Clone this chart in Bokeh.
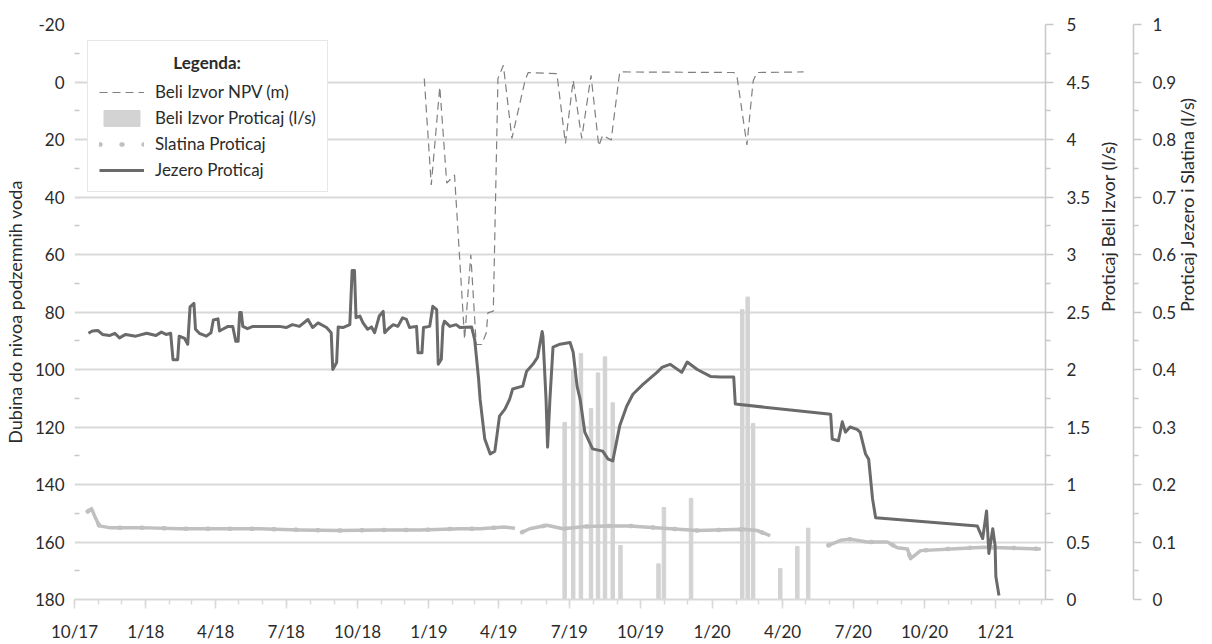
import math
import pandas as pd
from bokeh.plotting import figure
from bokeh.models import (Range1d, LinearAxis, FixedTicker, CustomJSTickFormatter,
                          Legend, LegendItem)
from bokeh.embed import file_html
from bokeh.resources import INLINE

FONT = "Lato"
NAN = float("nan")

# ---------------- data ----------------
X_START = "2017-10-01"
X_END = "2021-03-06"
X_TICKS = ["2017-10-01", "2018-01-01", "2018-04-01", "2018-07-01", "2018-10-01",
           "2019-01-01", "2019-04-01", "2019-07-01", "2019-10-01", "2020-01-01",
           "2020-04-01", "2020-07-01", "2020-10-01", "2021-01-01"]
X_TICK_LABELS = ["10/17", "1/18", "4/18", "7/18", "10/18", "1/19", "4/19", "7/19",
                 "10/19", "1/20", "4/20", "7/20", "10/20", "1/21"]

DEPTH_TICKS = [-20, 0, 20, 40, 60, 80, 100, 120, 140, 160, 180]
DEPTH_MINOR = [-10, 10, 30, 50, 70, 90, 110, 130, 150, 170]
BELI_TICKS = [0, 0.5, 1, 1.5, 2, 2.5, 3, 3.5, 4, 4.5, 5]
BELI_MINOR = [0.25, 0.75, 1.25, 1.75, 2.25, 2.75, 3.25, 3.75, 4.25, 4.75]
JS_TICKS = [0, 0.1, 0.2, 0.3, 0.4, 0.5, 0.6, 0.7, 0.8, 0.9, 1]
JS_MINOR = [0.05, 0.15, 0.25, 0.35, 0.45, 0.55, 0.65, 0.75, 0.85, 0.95]

LEGEND_TITLE = "Legenda:"
TITLE_LEFT = "Dubina do nivoa podzemnih voda"
TITLE_RIGHT1 = "Proticaj Beli Izvor (l/s)"
TITLE_RIGHT2 = "Proticaj Jezero i Slatina (l/s)"

# Jezero Proticaj (l/s) - right axis 0..1
jezero_dates = [
    "2017-10-19", "2017-10-24", "2017-10-31", "2017-11-06", "2017-11-15", "2017-11-22",
    "2017-11-28", "2017-12-06", "2017-12-19", "2018-01-02", "2018-01-14", "2018-01-21",
    "2018-01-27", "2018-02-02", "2018-02-05", "2018-02-11", "2018-02-13", "2018-02-20",
    "2018-02-24", "2018-02-27", "2018-03-04", "2018-03-06", "2018-03-11", "2018-03-20",
    "2018-03-26", "2018-03-29", "2018-04-04", "2018-04-06", "2018-04-10", "2018-04-17",
    "2018-04-23", "2018-04-27", "2018-04-30", "2018-05-02", "2018-05-04", "2018-05-06",
    "2018-05-12", "2018-05-19", "2018-06-22", "2018-07-01", "2018-07-09", "2018-07-18",
    "2018-07-29", "2018-08-04", "2018-08-11", "2018-08-22", "2018-08-28", "2018-08-30",
    "2018-09-04", "2018-09-06", "2018-09-12", "2018-09-21", "2018-09-24", "2018-09-27",
    "2018-09-29", "2018-10-04", "2018-10-08", "2018-10-14", "2018-10-19", "2018-10-23",
    "2018-10-29", "2018-11-03", "2018-11-05", "2018-11-09", "2018-11-16", "2018-11-22",
    "2018-11-28", "2018-12-03", "2018-12-07", "2018-12-16", "2018-12-18", "2018-12-23",
    "2018-12-25", "2019-01-02", "2019-01-06", "2019-01-11", "2019-01-13", "2019-01-17",
    "2019-01-19", "2019-01-21", "2019-01-28", "2019-02-05", "2019-02-10", "2019-02-25",
    "2019-03-01", "2019-03-06", "2019-03-08", "2019-03-14", "2019-03-21", "2019-03-27",
    "2019-04-02", "2019-04-09", "2019-04-15", "2019-04-19", "2019-05-02", "2019-05-07",
    "2019-05-15", "2019-05-21", "2019-05-27", "2019-05-28", "2019-06-01", "2019-06-03",
    "2019-06-06", "2019-06-10", "2019-06-19", "2019-07-02", "2019-07-06", "2019-07-11",
    "2019-07-15", "2019-07-21", "2019-07-31", "2019-08-13", "2019-08-20", "2019-08-26",
    "2019-09-04", "2019-09-13", "2019-09-21", "2019-10-04", "2019-10-22", "2019-10-29",
    "2019-11-08", "2019-11-23", "2019-11-30", "2019-12-13", "2019-12-30", "2020-01-12",
    "2020-01-29", "2020-01-31", "2020-06-02", "2020-06-04", "2020-06-12", "2020-06-17",
    "2020-06-21", "2020-06-27", "2020-07-06", "2020-07-10", "2020-07-17", "2020-07-21",
    "2020-07-26", "2020-07-30", "2020-12-08", "2020-12-15", "2020-12-20", "2020-12-23",
    "2020-12-28", "2020-12-31", "2021-01-01", "2021-01-05"]
jezero_vals = [
    0.463, 0.467, 0.468, 0.461, 0.459, 0.463,
    0.455, 0.461, 0.458, 0.463, 0.459, 0.465,
    0.461, 0.463, 0.417, 0.417, 0.458, 0.454,
    0.444, 0.509, 0.515, 0.470, 0.463, 0.458,
    0.464, 0.486, 0.488, 0.467, 0.470, 0.475,
    0.475, 0.449, 0.449, 0.499, 0.499, 0.475,
    0.471, 0.475, 0.475, 0.473, 0.478, 0.475,
    0.487, 0.473, 0.481, 0.473, 0.464, 0.400,
    0.412, 0.474, 0.473, 0.478, 0.572, 0.572,
    0.490, 0.493, 0.481, 0.470, 0.474, 0.464,
    0.493, 0.501, 0.464, 0.470, 0.478, 0.475,
    0.490, 0.487, 0.473, 0.475, 0.429, 0.429,
    0.473, 0.475, 0.510, 0.504, 0.409, 0.418,
    0.475, 0.484, 0.475, 0.478, 0.473, 0.474,
    0.452, 0.384, 0.348, 0.279, 0.253, 0.258,
    0.319, 0.331, 0.348, 0.366, 0.371, 0.397,
    0.409, 0.421, 0.466, 0.458, 0.348, 0.265,
    0.348, 0.439, 0.444, 0.447, 0.430, 0.371,
    0.348, 0.291, 0.262, 0.258, 0.244, 0.241,
    0.302, 0.336, 0.357, 0.374, 0.395, 0.404,
    0.409, 0.395, 0.413, 0.400, 0.388, 0.387,
    0.387, 0.340, 0.322, 0.279, 0.276, 0.309,
    0.291, 0.300, 0.296, 0.291, 0.253, 0.244,
    0.175, 0.142, 0.128, 0.106, 0.154, 0.080,
    0.123, 0.094, 0.040, 0.007]

# Beli Izvor NPV (m) - left axis (depth)
npv_dates = [
    "2018-12-26", "2019-01-04", "2019-01-15", "2019-01-24", "2019-02-03", "2019-02-16",
    "2019-02-24", "2019-03-03", "2019-03-10", "2019-03-16", "2019-03-18", "2019-03-25",
    "2019-03-31", "2019-04-07", "2019-04-18", "2019-05-05", "2019-05-09", "2019-06-15",
    "2019-06-26", "2019-07-06", "2019-07-17", "2019-07-29", "2019-08-08", "2019-08-13",
    "2019-08-24", "2019-09-04", "2020-01-29", "2020-02-02", "2020-02-15", "2020-02-23",
    "2020-02-28", "2020-04-28"]
npv_vals = [
    -1.2, 35.8, 1.7, 35.2, 32.3, 89.5,
    60.1, 91.3, 91.3, 87.2, 80.3, 79.7,
    -1.2, -5.8, 19.6, -0.6, -3.3, -2.9,
    21.4, -0.6, 19.6, -2.3, 22.3, 18.5,
    20.2, -3.5, -3.3, -2.3, 21.9, -0.3,
    -3.3, -3.5]

# Beli Izvor Proticaj (l/s) - bars, right axis 0..5
bar_dates = ["2019-06-25", "2019-07-06", "2019-07-16", "2019-07-29", "2019-08-07",
             "2019-08-16", "2019-08-26", "2019-09-05", "2019-10-24", "2019-10-31",
             "2019-12-05", "2020-02-09", "2020-02-16", "2020-02-23", "2020-03-29",
             "2020-04-20", "2020-05-04"]
bar_vals = [1.54, 2.0, 2.14, 1.66, 1.97,
            2.11, 1.71, 0.47, 0.31, 0.80,
            0.88, 2.52, 2.63, 1.53, 0.27,
            0.46, 0.62]

# Slatina Proticaj (l/s) - right axis 0..1 (NaN = gap in record)
slatina_dates = [
    "2017-10-18", "2017-10-23", "2017-10-28", "2017-11-02", "2017-11-15", "2017-12-24",
    "2018-02-14", "2018-04-06", "2018-05-28", "2018-07-18", "2018-09-08", "2018-10-30",
    "2018-12-20", "2019-02-10", "2019-03-08", "2019-04-08", "2019-04-22", "2019-04-26",
    "2019-05-01", "2019-05-11", "2019-06-02", "2019-06-23", "2019-07-21", "2019-08-22",
    "2019-09-17", "2019-10-30", "2019-12-13", "2020-02-11", "2020-02-28", "2020-03-16",
    "2020-04-20",
    "2020-05-30", "2020-06-15", "2020-06-27", "2020-07-19", "2020-08-14", "2020-08-27",
    "2020-09-09", "2020-09-13", "2020-09-26", "2020-11-04", "2020-12-16", "2021-02-28"]
slatina_vals = [
    0.153, 0.158, 0.142, 0.128, 0.125, 0.125,
    0.123, 0.123, 0.123, 0.121, 0.120, 0.121,
    0.121, 0.123, 0.123, 0.126, 0.124, NAN,
    0.117, 0.123, 0.129, 0.123, 0.127, 0.128,
    0.128, 0.124, 0.120, 0.122, 0.120, 0.111,
    NAN,
    0.094, 0.103, 0.105, 0.100, 0.100, 0.090,
    0.088, 0.071, 0.085, 0.088, 0.091, 0.088]

# ---------------- helpers ----------------
def ms(d):
    return pd.Timestamp(d).value // 10**6

def dts(lst):
    return pd.to_datetime(lst)

DAY_MS = 86400000
BAR_W = 4.5 * DAY_MS
GRID = "#d9d9d9"
AXC = "#c8c8c8"
TXT = "#2b2b2b"
TICK_FS = "17px"
TITLE_FS = "18px"

p = figure(width=1212, height=644, x_axis_type="datetime",
           x_range=Range1d(pd.Timestamp(X_START), pd.Timestamp(X_END)),
           y_range=Range1d(180, -20),
           output_backend="svg", toolbar_location=None,
           min_border_left=0, min_border_right=166, min_border_top=24,
           min_border_bottom=0)
p.extra_y_ranges = {"beli": Range1d(0, 5), "js": Range1d(0, 1)}
p.outline_line_color = None
p.background_fill_color = "white"
p.border_fill_color = "white"
p.xgrid.grid_line_color = None
p.ygrid.grid_line_color = GRID
p.ygrid.grid_line_width = 2

# x axis
xa = p.xaxis[0]
xa.ticker = FixedTicker(ticks=[ms(d) for d in X_TICKS],
                        minor_ticks=[ms(d) for d in pd.date_range(X_START, X_END, freq="MS")])
xa.formatter = CustomJSTickFormatter(
    args=dict(qt=[ms(d) for d in X_TICKS], ql=X_TICK_LABELS),
    code="""
    for (let i = 0; i < qt.length; i++) {
      if (Math.abs(qt[i] - tick) < 1e6) return ql[i];
    }
    return '';
    """)
xa.axis_line_color = GRID
xa.axis_line_width = 2
xa.major_tick_line_color = GRID
xa.major_tick_line_width = 1.5
xa.minor_tick_line_color = GRID
xa.minor_tick_line_width = 1.5
xa.major_tick_in = 0
xa.major_tick_out = 9
xa.minor_tick_in = 0
xa.minor_tick_out = 5
xa.major_label_standoff = 12
xa.major_label_text_font = FONT
xa.major_label_text_font_size = TICK_FS
xa.major_label_text_color = TXT

fmt = CustomJSTickFormatter(code="return String(Math.round(tick * 100) / 100);")

# left axis (depth)
ya = p.yaxis[0]
ya.ticker = FixedTicker(ticks=DEPTH_TICKS, minor_ticks=DEPTH_MINOR)
ya.formatter = fmt
ya.axis_line_color = None
ya.major_tick_line_color = None
ya.major_tick_in = 0
ya.major_tick_out = 0
ya.minor_tick_line_color = AXC
ya.minor_tick_line_width = 1.5
ya.minor_tick_in = 5
ya.minor_tick_out = 0
ya.major_label_standoff = 10
ya.major_label_text_font = FONT
ya.major_label_text_font_size = TICK_FS
ya.major_label_text_color = TXT
ya.axis_label = TITLE_LEFT
ya.axis_label_text_font = FONT
ya.axis_label_text_font_size = TITLE_FS
ya.axis_label_text_font_style = "normal"
ya.axis_label_text_color = TXT
ya.axis_label_standoff = 6


def style_right(ax, standoff_lbl, standoff_title):
    ax.axis_line_color = AXC
    ax.axis_line_width = 1.5
    ax.major_tick_line_color = AXC
    ax.major_tick_line_width = 1.5
    ax.minor_tick_line_color = AXC
    ax.minor_tick_line_width = 1.5
    ax.major_tick_in = 0
    ax.major_tick_out = 8
    ax.minor_tick_in = 0
    ax.minor_tick_out = 5
    ax.major_label_standoff = standoff_lbl
    ax.major_label_text_font = FONT
    ax.major_label_text_font_size = TICK_FS
    ax.major_label_text_color = TXT
    ax.axis_label_text_font = FONT
    ax.axis_label_text_font_size = TITLE_FS
    ax.axis_label_text_font_style = "normal"
    ax.axis_label_text_color = TXT
    ax.axis_label_standoff = standoff_title
    ax.axis_label_orientation = math.pi / 2


ax_beli = LinearAxis(y_range_name="beli",
                     ticker=FixedTicker(ticks=BELI_TICKS, minor_ticks=BELI_MINOR),
                     formatter=fmt, axis_label=TITLE_RIGHT1)
style_right(ax_beli, 13, 15)
p.add_layout(ax_beli, "right")

ax_js = LinearAxis(y_range_name="js",
                   ticker=FixedTicker(ticks=JS_TICKS, minor_ticks=JS_MINOR),
                   formatter=fmt, axis_label=TITLE_RIGHT2)
style_right(ax_js, 11, 8)
p.add_layout(ax_js, "right")

# ---------------- glyphs ----------------
bar_r = p.vbar(x=dts(bar_dates), top=bar_vals, bottom=0, width=BAR_W,
               y_range_name="beli", fill_color="#d3d3d3", line_color="#d3d3d3")
slat_r = p.line(dts(slatina_dates), slatina_vals, y_range_name="js",
                line_color="#c0c0c0", line_width=3.5, line_join="round")
slat_leg = p.line(dts(slatina_dates), slatina_vals, y_range_name="js",
                  line_color="#c0c0c0", line_width=4.5, line_dash="1 21",
                  line_cap="round")
npv_r = p.line(dts(npv_dates), npv_vals, line_color="#7f7f7f", line_width=1.2,
               line_dash="8 5")
jez_r = p.line(dts(jezero_dates), jezero_vals, y_range_name="js",
               line_color="#6a6a6a", line_width=3, line_join="round")

# heading centred over the items with non-breaking spaces
legend = Legend(items=[
    LegendItem(label="Beli Izvor NPV (m)", renderers=[npv_r]),
    LegendItem(label="Beli Izvor Proticaj (l/s)", renderers=[bar_r]),
    LegendItem(label="Slatina Proticaj", renderers=[slat_leg]),
    LegendItem(label="Jezero Proticaj", renderers=[jez_r]),
], location=(13, 407), orientation="vertical", margin=0, padding=11,
    title="\u00a0" * 18 + LEGEND_TITLE, title_text_font=FONT,
    title_text_font_size="17px", title_text_font_style="bold",
    title_text_color=TXT, title_standoff=8,
    label_text_font=FONT, label_text_font_size="17px", label_text_color=TXT,
    glyph_width=45, glyph_height=20, label_height=20, spacing=5, label_standoff=11,
    border_line_color="#cfcfcf", border_line_width=1.5,
    background_fill_color="white", background_fill_alpha=1.0)
p.add_layout(legend)

open("out.html", "w").write(file_html(p, INLINE))
